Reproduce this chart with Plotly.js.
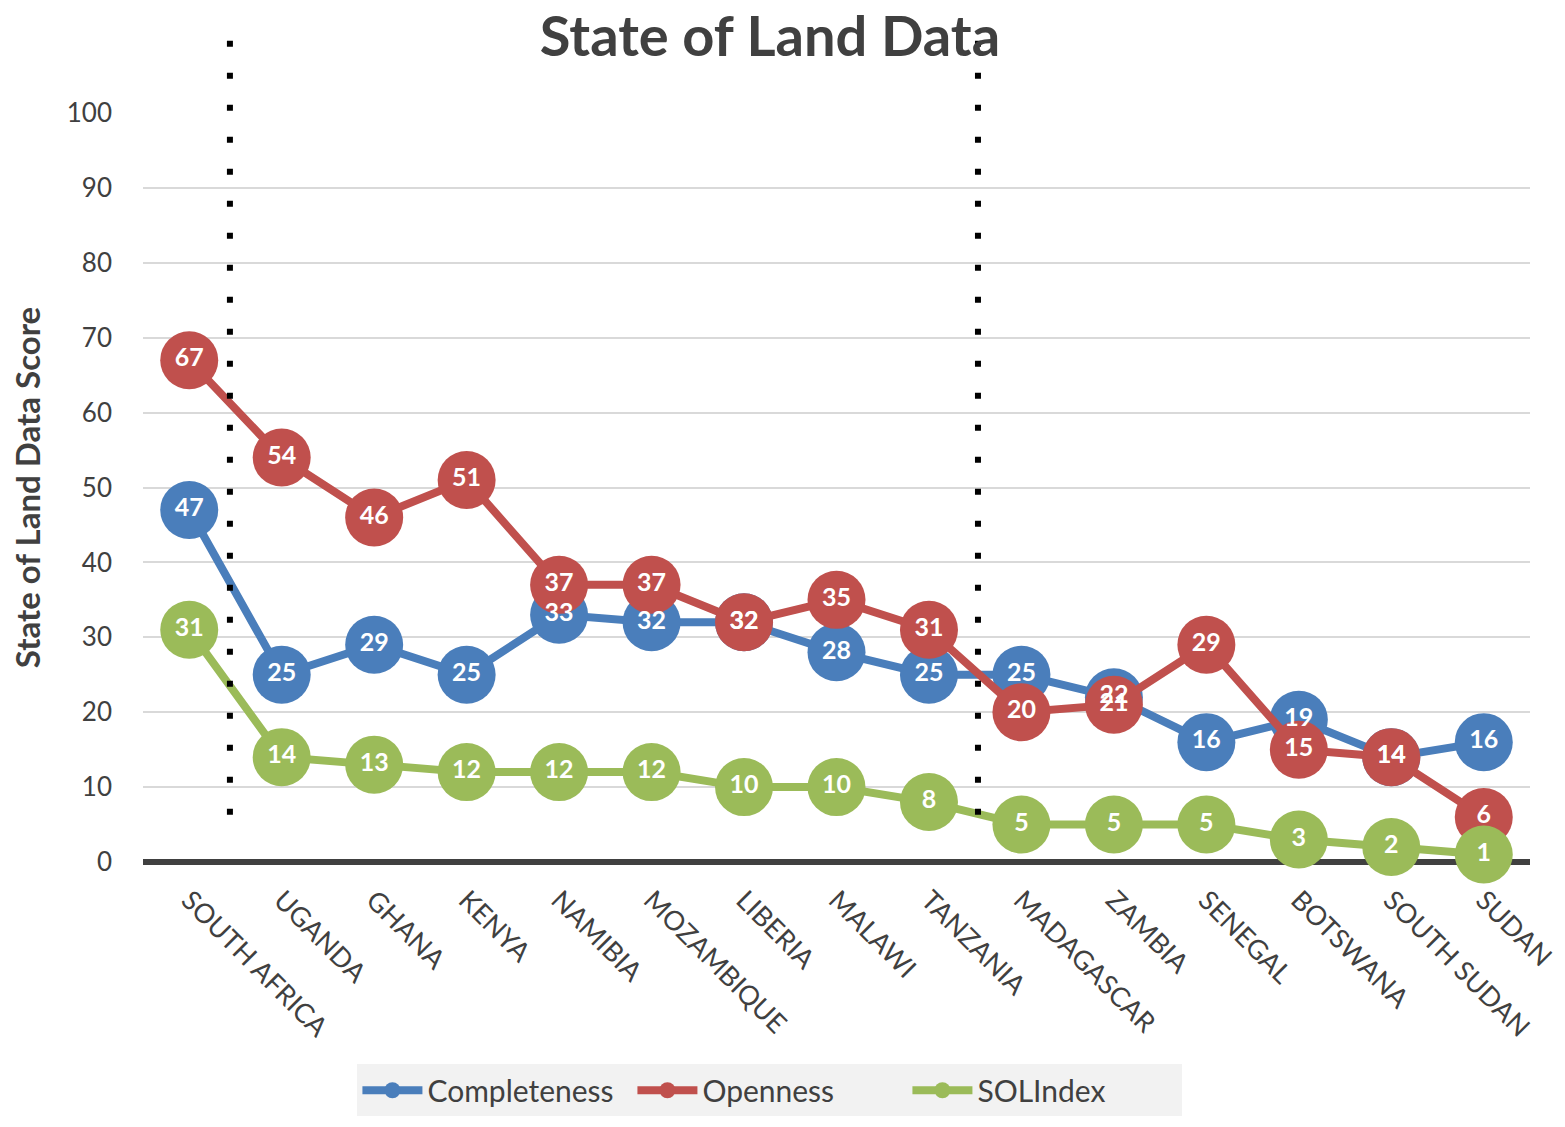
<!DOCTYPE html>
<html>
<head>
<meta charset="utf-8">
<script src="https://cdn.plot.ly/plotly-3.0.1.min.js"></script>
<style>html,body{margin:0;padding:0;background:#fff;}#chart{width:1565px;height:1127px;}</style>
</head>
<body>
<div id="chart"></div>
<script>
const countries = ["SOUTH AFRICA","UGANDA","GHANA","KENYA","NAMIBIA","MOZAMBIQUE","LIBERIA","MALAWI","TANZANIA","MADAGASCAR","ZAMBIA","SENEGAL","BOTSWANA","SOUTH SUDAN","SUDAN"];
const completeness = [47,25,29,25,33,32,32,28,25,25,22,16,19,14,16];
const openness     = [67,54,46,51,37,37,32,35,31,20,21,29,15,14,6];
const solIndex     = [31,14,13,12,12,12,10,10,8,5,5,5,3,2,1];
const seriesNames  = ["Completeness","Openness","SOLIndex"];
const colors = ["#4A7EBB","#C0504D","#9BBB59"];
const font = "Lato, 'Open Sans', sans-serif";

const series = [completeness, openness, solIndex];
const traces = [];
series.forEach((vals, i) => {
  traces.push({
    x: countries, y: vals, name: seriesNames[i], type: "scatter", mode: "lines+markers",
    line: {color: colors[i], width: 8},
    marker: {color: colors[i], size: 58},
    cliponaxis: false
  });
});
series.forEach((vals, i) => {
  traces.push({
    x: countries, y: vals, type: "scatter", mode: "text", showlegend: false,
    text: vals.map(String), textposition: "middle center",
    textfont: {family: font, size: 25, color: "#ffffff", weight: "bold"},
    cliponaxis: false, hoverinfo: "skip"
  });
});

const layout = {
  width: 1565, height: 1127,
  margin: {l: 143, r: 35, t: 113, b: 265, autoexpand: false},
  paper_bgcolor: "#ffffff", plot_bgcolor: "#ffffff",
  font: {family: font, color: "#404040"},
  title: {text: "<b>State of Land Data</b>", font: {family: font, size: 56, color: "#404040"},
          x: 0.492, xanchor: "center", xref: "container", y: 0.968, yanchor: "middle", yref: "container"},
  xaxis: {
    type: "category", range: [-0.5, 14.5], tickangle: 45, showgrid: false, showline: false,
    ticks: "", tickfont: {family: font, size: 27, color: "#404040"}, ticklabelstandoff: 16,
    automargin: false
  },
  yaxis: {
    range: [0, 100], dtick: 10, showgrid: true, gridcolor: "#d9d9d9", gridwidth: 2,
    zeroline: true, zerolinecolor: "#404040", zerolinewidth: 6, showline: false, ticks: "",
    tickfont: {family: font, size: 26, color: "#404040"}, ticklabelstandoff: 30, automargin: false,
    title: {text: "<b>State of Land Data Score</b>", font: {family: font, size: 33, color: "#404040"}, standoff: 16}
  },
  showlegend: true,
  legend: {
    orientation: "h", x: 0.452, xanchor: "center", y: -0.27, yanchor: "top",
    bgcolor: "#f2f2f2", font: {family: font, size: 30, color: "#404040"},
    itemwidth: 60, entrywidth: 200, entrywidthmode: "pixels"
  },
  shapes: [
    {type: "line", xref: "x", yref: "paper", x0: 0.44, x1: 0.44, y0: 0.063, y1: 1.097,
     line: {color: "#000000", width: 6, dash: "6px,26px"}},
    {type: "line", xref: "x", yref: "paper", x0: 8.53, x1: 8.53, y0: 0.063, y1: 1.097,
     line: {color: "#000000", width: 6, dash: "6px,26px"}}
  ]
};

Plotly.newPlot("chart", traces, layout, {displayModeBar: false});
</script>
</body>
</html>
